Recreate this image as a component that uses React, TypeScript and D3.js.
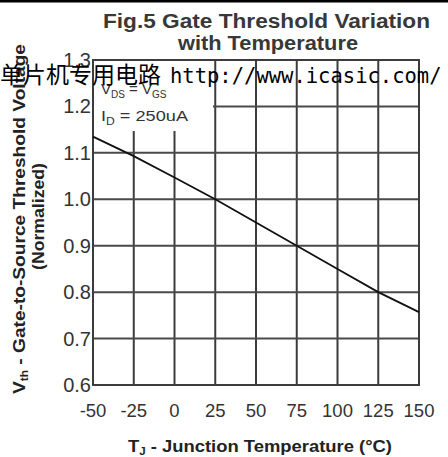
import React from 'react';
import { scaleLinear, line } from 'd3';

// chart values
const temps = [-50, -25, 0, 25, 50, 75, 100, 125, 150];
const vth = [1.135, 1.093, 1.047, 1.0, 0.95, 0.9, 0.85, 0.8, 0.757];
const xTicks = [-50, -25, 0, 25, 50, 75, 100, 125, 150];
const yTicks = [0.6, 0.7, 0.8, 0.9, 1.0, 1.1, 1.2, 1.3];

const width = 448;
const height = 457;
const margin = { left: 93, right: 29, top: 60, bottom: 72 };

const App = () => {
  const x = scaleLinear().domain([-50, 150]).range([margin.left, width - margin.right]);
  const y = scaleLinear().domain([0.6, 1.3]).range([height - margin.bottom, margin.top]);

  const path = line<number>()
    .x((_, i) => x(temps[i]))
    .y((d) => y(d))(vth);

  // legend box hides grid lines in the top-left corner
  const legendRight = 213;
  const legendBottom = 131;

  return (
    <svg
      width={width}
      height={height}
      style={{ position: 'absolute', left: 0, top: 0, background: '#fff' }}
      fontFamily="'Liberation Sans', Arial, sans-serif"
    >
      <rect x={0} y={0} width={width} height={2.5} fill="#000" />

      <text x={103} y={28} textLength={327} lengthAdjust="spacingAndGlyphs" fontSize={20} fontWeight="bold" fill="#383838">
        Fig.5 Gate Threshold Variation
      </text>
      <text x={178} y={50} textLength={180} lengthAdjust="spacingAndGlyphs" fontSize={20} fontWeight="bold" fill="#383838">
        with Temperature
      </text>

      {/* grid */}
      {xTicks.slice(1, -1).map((t) => (
        <line
          key={'vx' + t}
          x1={x(t)}
          x2={x(t)}
          y1={x(t) < legendRight ? legendBottom : y(1.3)}
          y2={y(0.6)}
          stroke="#3c3c3c"
          strokeWidth={2}
        />
      ))}
      {yTicks.slice(1, -1).map((t) => (
        <line
          key={'hy' + t}
          x1={y(t) < legendBottom ? legendRight : x(-50)}
          x2={x(150)}
          y1={y(t)}
          y2={y(t)}
          stroke="#4a4a4a"
          strokeWidth={2}
        />
      ))}
      <rect
        x={x(-50)}
        y={y(1.3)}
        width={x(150) - x(-50)}
        height={y(0.6) - y(1.3)}
        fill="none"
        stroke="#3c3c3c"
        strokeWidth={2}
      />

      <path d={path ?? ''} fill="none" stroke="#111" strokeWidth={1.8} />

      {/* tick labels */}
      {yTicks.map((t) => (
        <text key={'yl' + t} x={x(-50) - 2} y={y(t) + 7} textAnchor="end" fontSize={20} fill="#333">
          {t.toFixed(1)}
        </text>
      ))}
      {xTicks.map((t) => (
        <text key={'xl' + t} x={x(t)} y={y(0.6) + 32} textAnchor="middle" fontSize={18.5} fill="#333">
          {t}
        </text>
      ))}

      {/* legend */}
      <text x={101} y={94} fontSize={15} fill="#333">
        V<tspan fontSize={10} dy={4}>DS</tspan>
        <tspan dy={-4}> = V</tspan>
        <tspan fontSize={10} dy={4}>GS</tspan>
      </text>
      <text x={101} y={121} fontSize={15} fill="#333" textLength={87} lengthAdjust="spacingAndGlyphs">
        I<tspan fontSize={10} dy={4}>D</tspan>
        <tspan dy={-4}> = 250uA</tspan>
      </text>

      {/* axis titles */}
      <text x={128} y={452} textLength={264} lengthAdjust="spacingAndGlyphs" fontSize={16} fontWeight="bold" fill="#222">
        T<tspan fontSize={10} dy={3}>J</tspan>
        <tspan dy={-3}> - Junction Temperature (°C)</tspan>
      </text>
      <text
        transform="translate(25,394) rotate(-90)"
        textLength={350}
        lengthAdjust="spacingAndGlyphs"
        fontSize={16}
        fontWeight="bold"
        fill="#222"
      >
        V<tspan fontSize={10} dy={3}>th</tspan>
        <tspan dy={-3}> - Gate-to-Source Threshold Voltage</tspan>
      </text>
      <text
        transform="translate(44,270) rotate(-90)"
        textLength={107}
        lengthAdjust="spacingAndGlyphs"
        fontSize={16}
        fontWeight="bold"
        fill="#222"
      >
        (Normalized)
      </text>

      {/* watermark */}
      <text x={0} y={83} fill="#000">
        <tspan fontFamily="'Noto Sans CJK SC'" fontSize={23}>
          单片机专用电路
        </tspan>
        <tspan fontFamily="'DejaVu Sans Mono', monospace" fontSize={20.5} x={170}>
          http://www.icasic.com/
        </tspan>
      </text>
    </svg>
  );
};

export default App;
